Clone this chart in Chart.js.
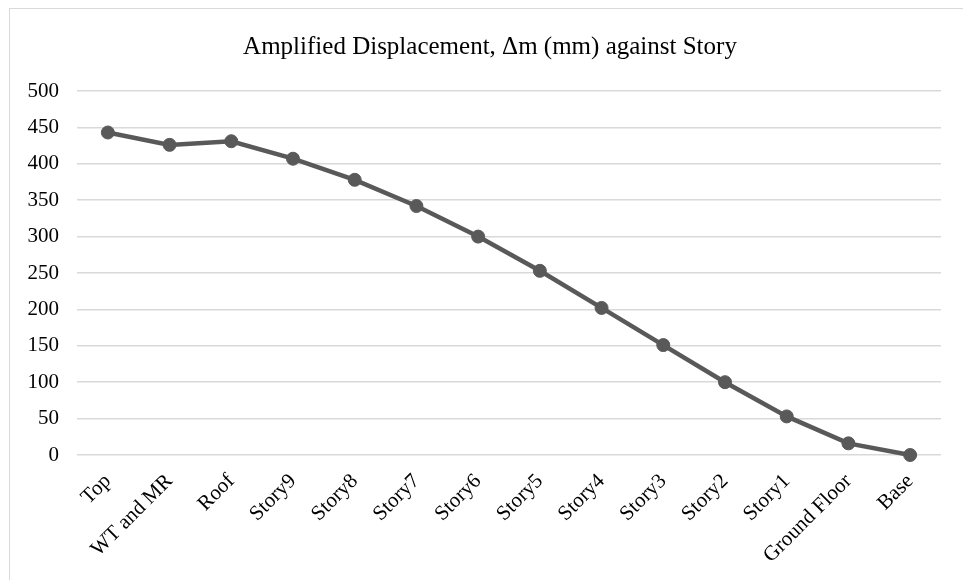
<!DOCTYPE html>
<html>
<head>
<meta charset="utf-8">
<script src="https://cdn.jsdelivr.net/npm/chart.js@4/dist/chart.umd.min.js"></script>
<style>
  html, body { margin: 0; padding: 0; background: #ffffff; }
  #wrap { position: relative; width: 963px; height: 580px; overflow: hidden; }
  #frame { position: absolute; left: 9px; top: 8px; width: 1000px; height: 620px;
           border: 1px solid #d9d9d9; box-sizing: border-box; }
  #chart { position: absolute; left: 0; top: 0; }
</style>
</head>
<body>
<div id="wrap">
  <div id="frame"></div>
  <canvas id="chart" width="963" height="580"></canvas>
</div>
<script>
// Story levels, from the top of the building down to the base
const stories = ['Top', 'WT and MR', 'Roof', 'Story9', 'Story8', 'Story7', 'Story6',
                 'Story5', 'Story4', 'Story3', 'Story2', 'Story1', 'Ground Floor', 'Base'];
// Amplified displacement Δm in mm at each level
const displacement = [443, 426, 431, 407, 378, 342, 300, 253, 202, 151, 100, 53, 16, 0];
// Value axis range and step
const yMin = 0, yMax = 500, yStep = 50;

const serif = "'Liberation Serif', 'Times New Roman', Times, serif";
const lineGrey = '#595959';

// Centre the title over the plotting region rather than the whole canvas
const titleOverPlot = {
  id: 'titleOverPlot',
  afterLayout(chart) {
    const tb = chart.titleBlock;
    if (!tb) return;
    const mid = (chart.chartArea.left + chart.chartArea.right) / 2 - 19;
    const half = tb.width / 2;
    tb.left = mid - half;
    tb.right = mid + half;
  }
};

new Chart(document.getElementById('chart'), {
  type: 'line',
  data: {
    labels: stories,
    datasets: [{
      label: 'Amplified Displacement',
      data: displacement,
      borderColor: lineGrey,
      backgroundColor: lineGrey,
      borderWidth: 4.5,
      pointRadius: 6.5,
      pointBorderWidth: 1,
      pointBackgroundColor: lineGrey,
      pointBorderColor: lineGrey,
      tension: 0,
      fill: false,
      clip: false
    }]
  },
  options: {
    responsive: false,
    animation: false,
    devicePixelRatio: 1,
    layout: { padding: { left: 10, right: 22, top: 0, bottom: 0 } },
    plugins: {
      legend: { display: false },
      tooltip: { enabled: false },
      title: {
        display: true,
        text: 'Amplified Displacement, \u0394m (mm) against Story',
        color: '#000000',
        font: { family: serif, size: 25, weight: 'normal' },
        padding: { top: 32, bottom: 29 }
      }
    },
    scales: {
      x: {
        offset: true,
        grid: { display: false, drawTicks: false },
        border: { display: false },
        ticks: {
          color: '#000000',
          font: { family: serif, size: 21 },
          maxRotation: 45,
          minRotation: 45,
          autoSkip: false,
          padding: 14
        },
        afterFit: s => { s.height = 580 - 455; }
      },
      y: {
        min: yMin,
        max: yMax,
        grid: { color: '#d9d9d9', lineWidth: 1.5, drawTicks: false },
        border: { display: false },
        ticks: {
          stepSize: yStep,
          color: '#000000',
          font: { family: serif, size: 21 },
          padding: 18
        },
        afterFit: s => { s.width = 77 - 10; }
      }
    }
  },
  plugins: [titleOverPlot]
});
</script>
</body>
</html>
